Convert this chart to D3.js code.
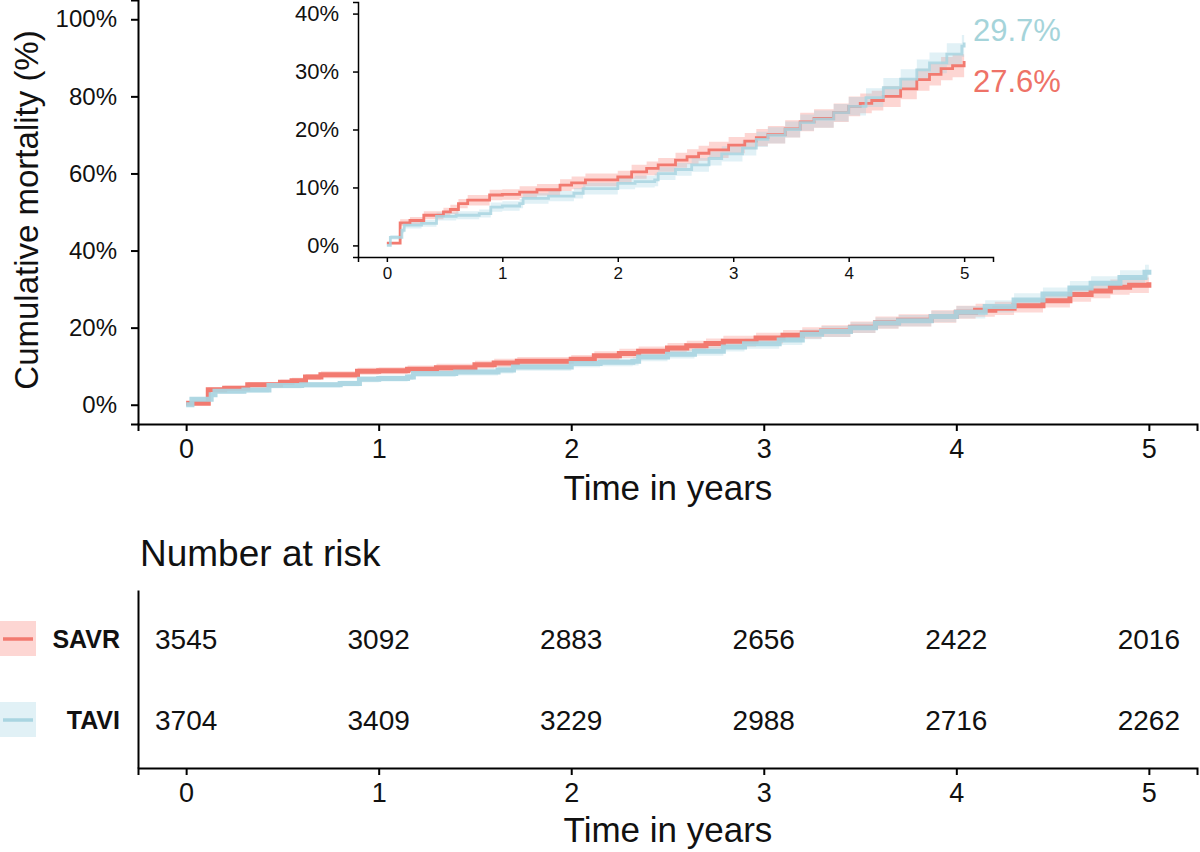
<!DOCTYPE html>
<html><head><meta charset="utf-8">
<script src="https://cdn.jsdelivr.net/npm/d3@7"></script>
<style>
body{margin:0;background:#fff;}
svg{display:block;font-family:"Liberation Sans",Arial,Helvetica,sans-serif;}
</style></head>
<body>
<svg id="chart" width="1200" height="852"></svg>
<script>
// ---------------- DATA ----------------
const groups = ["SAVR", "TAVI"];
const yearTicks = [0, 1, 2, 3, 4, 5];
const mainYTicks = [0, 20, 40, 60, 80, 100];
const insetYTicks = [0, 10, 20, 30, 40];

const savrTime  = [0,0.115,0.2,0.32,0.49,0.55,0.62,0.7,0.89,1.0,1.15,1.3,1.5,1.6,1.72,2.0,2.12,2.25,2.35,2.5,2.6,2.7,2.79,2.96,3.1,3.2,3.3,3.45,3.58,3.7,3.87,4.0,4.1,4.2,4.3,4.45,4.59,4.7,4.8,4.9,5.0];
const savrMort  = [0.4,3.9,4.3,5.2,5.8,6.2,7.2,7.8,8.7,8.8,9.2,9.6,10.4,10.8,11.3,11.8,12.7,13.3,13.9,14.7,15.3,15.9,16.5,17.3,18.0,18.6,19.1,20.1,21.3,21.9,22.9,24.0,24.5,25.0,25.7,27.0,28.6,29.5,30.5,31.0,31.8];
const savrLower = [0.2,3.3,3.7,4.5,5.1,5.4,6.4,6.9,7.8,7.9,8.2,8.6,9.4,9.7,10.2,10.7,11.5,12.1,12.7,13.4,14.0,14.6,15.1,15.9,16.6,17.1,17.6,18.6,19.7,20.3,21.3,22.3,22.8,23.3,23.9,25.2,26.7,27.6,28.5,29.0,29.7];
const savrUpper = [0.6,4.5,4.9,5.9,6.5,7.0,8.0,8.7,9.6,9.7,10.2,10.6,11.4,11.9,12.4,12.9,13.9,14.5,15.1,16.0,16.6,17.2,17.9,18.7,19.4,20.1,20.6,21.6,22.9,23.5,24.5,25.7,26.2,26.7,27.5,28.8,30.5,31.4,32.5,33.0,33.9];

const taviTime  = [0,0.03,0.13,0.15,0.3,0.43,0.6,0.8,0.9,1.0,1.15,1.18,1.4,1.62,1.7,2.0,2.15,2.32,2.35,2.5,2.64,2.79,2.9,3.08,3.2,3.3,3.45,3.58,3.7,3.87,4.0,4.15,4.3,4.45,4.59,4.7,4.85,4.98,5.0];
const taviMort  = [0,1.4,2.6,3.5,3.8,5.0,5.2,5.5,6.6,6.8,7.2,8.1,8.5,9.0,9.8,10.7,11.0,11.3,12.4,13.1,13.9,15.0,15.8,16.8,18.3,19.0,20.0,21.2,21.8,22.9,24.0,25.5,27.2,28.7,30.3,31.5,33.0,34.4,35.0];
const taviLower = [0,1.0,2.1,2.9,3.2,4.3,4.5,4.8,5.8,6.0,6.4,7.2,7.6,8.1,8.8,9.7,10.0,10.2,11.3,12.0,12.7,13.8,14.5,15.5,17.0,17.6,18.6,19.8,20.3,21.4,22.4,23.9,25.5,27.0,28.5,29.7,31.1,32.5,33.0];
const taviUpper = [0.1,1.8,3.1,4.1,4.4,5.7,5.9,6.2,7.4,7.6,8.0,9.0,9.4,9.9,10.8,11.7,12.0,12.4,13.5,14.2,15.1,16.2,17.1,18.1,19.6,20.4,21.4,22.6,23.3,24.4,25.6,27.1,28.9,30.4,32.1,33.3,34.9,36.3,37.0];

const endLabels = ["27.6%", "29.7%"];          // SAVR, TAVI
const riskSAVR = [3545, 3092, 2883, 2656, 2422, 2016];
const riskTAVI = [3704, 3409, 3229, 2988, 2716, 2262];

// ---------------- STYLE ----------------
const lineCol = {SAVR: "#F27A70", TAVI: "#A9D5E1"};
const bandCol = {SAVR: "#F8766D", TAVI: "#9CCFE0"};
const labelCol = {SAVR: "#EE7267", TAVI: "#A5D4DA"};
const FONT = '"Liberation Sans",Arial,Helvetica,sans-serif';

const series = [
  {name: "SAVR", pts: savrTime.map((t, i) => ({t, v: savrMort[i], lo: savrLower[i], hi: savrUpper[i]}))},
  {name: "TAVI", pts: taviTime.map((t, i) => ({t, v: taviMort[i], lo: taviLower[i], hi: taviUpper[i]}))}
];

const svg = d3.select("#chart");
const fmtInt = d3.format("d");

function drawCurves(g, x, y, lw, bandOp, lineOp) {
  const area = d3.area().curve(d3.curveStepAfter).x(d => x(d.t)).y0(d => y(d.lo)).y1(d => y(d.hi));
  const line = d3.line().curve(d3.curveStepAfter).x(d => x(d.t)).y(d => y(d.v));
  series.forEach(s => {
    g.append("path").datum(s.pts).attr("d", area)
      .attr("fill", bandCol[s.name]).attr("fill-opacity", bandOp).attr("stroke", "none");
  });
  series.forEach(s => {
    g.append("path").datum(s.pts).attr("d", line)
      .attr("fill", "none").attr("stroke", lineCol[s.name]).attr("stroke-width", lw)
      .attr("stroke-opacity", lineOp[s.name]);
  });
}

function styleAxis(ax, fs, sw) {
  ax.selectAll(".domain").attr("stroke", "#000").attr("stroke-width", sw);
  ax.selectAll(".tick line").attr("stroke", "#000").attr("stroke-width", sw);
  ax.selectAll(".tick text").attr("fill", "#111").attr("font-size", fs).attr("font-family", FONT);
}

// ---------------- MAIN PLOT ----------------
const xMain = d3.scaleLinear().domain([-0.25, 5.25]).range([138, 1197]);
const yMain = d3.scaleLinear().domain([-5, 105]).range([424, 0]);

const gMain = svg.append("g");
drawCurves(gMain, xMain, yMain, 5, 0.28, {SAVR: 1, TAVI: 0.92});

const axL = svg.append("g").attr("transform", `translate(${xMain.range()[0]},0)`)
  .call(d3.axisLeft(yMain).tickValues(mainYTicks).tickFormat(d => d + "%").tickSizeOuter(0).tickSize(7).tickPadding(14));
styleAxis(axL, 24, 2);
const axB = svg.append("g").attr("transform", `translate(0,${yMain.range()[0]})`)
  .call(d3.axisBottom(xMain).tickValues(yearTicks).tickFormat(fmtInt).tickSizeOuter(0).tickSize(7).tickPadding(8));
styleAxis(axB, 27, 2);

svg.append("text").attr("transform", "translate(38,210) rotate(-90)")
  .attr("text-anchor", "middle").attr("font-size", 33).attr("font-family", FONT).attr("fill", "#111")
  .text("Cumulative mortality (%)");
svg.append("text").attr("x", 668).attr("y", 500)
  .attr("text-anchor", "middle").attr("font-size", 35).attr("font-family", FONT).attr("fill", "#111")
  .text("Time in years");

// ---------------- INSET ----------------
const xIn = d3.scaleLinear().domain([-0.25, 5.25]).range([358, 993]);
const yIn = d3.scaleLinear().domain([-2, 42]).range([257, 2]);
const gIn = svg.append("g");
drawCurves(gIn, xIn, yIn, 2.8, 0.3, {SAVR: 1, TAVI: 0.85});

const axLi = svg.append("g").attr("transform", `translate(${xIn.range()[0]},0)`)
  .call(d3.axisLeft(yIn).tickValues(insetYTicks).tickFormat(d => d + "%").tickSizeOuter(0).tickSize(5).tickPadding(14));
styleAxis(axLi, 22, 1.5);
const axBi = svg.append("g").attr("transform", `translate(0,${yIn.range()[0]})`)
  .call(d3.axisBottom(xIn).tickValues(yearTicks).tickFormat(fmtInt).tickSizeOuter(0).tickSize(5).tickPadding(5));
styleAxis(axBi, 17, 1.5);

svg.append("text").attr("x", 973).attr("y", 41).attr("font-size", 31).attr("font-family", FONT)
  .attr("fill", labelCol.TAVI).text(endLabels[1]);
svg.append("text").attr("x", 973).attr("y", 92).attr("font-size", 31).attr("font-family", FONT)
  .attr("fill", labelCol.SAVR).text(endLabels[0]);

// ---------------- RISK TABLE ----------------
svg.append("text").attr("x", 140).attr("y", 566).attr("font-size", 37).attr("font-family", FONT)
  .attr("fill", "#111").text("Number at risk");

const yRisk = d3.scalePoint().domain(groups).range([639, 720]);
const axLr = svg.append("g").attr("transform", `translate(${xMain.range()[0]},0)`)
  .call(d3.axisLeft(d3.scaleLinear().domain([0, 1]).range([768, 590])).tickValues([]).tickSizeOuter(0));
styleAxis(axLr, 24, 2);
const axBr = svg.append("g").attr("transform", "translate(0,768)")
  .call(d3.axisBottom(xMain).tickValues(yearTicks).tickFormat(fmtInt).tickSizeOuter(0).tickSize(7).tickPadding(8));
styleAxis(axBr, 27, 2);

const riskRows = [{name: "SAVR", vals: riskSAVR}, {name: "TAVI", vals: riskTAVI}];
riskRows.forEach(r => {
  svg.append("g").selectAll("text").data(r.vals).join("text")
    .attr("x", (d, i) => xMain(yearTicks[i])).attr("y", yRisk(r.name) + 10)
    .attr("text-anchor", "middle").attr("font-size", 28).attr("font-family", FONT).attr("fill", "#111")
    .text(d => d);
  // legend key
  svg.append("rect").attr("x", 0).attr("y", yRisk(r.name) - 18).attr("width", 36).attr("height", 35)
    .attr("fill", bandCol[r.name]).attr("fill-opacity", 0.3);
  svg.append("line").attr("x1", 3).attr("x2", 33).attr("y1", yRisk(r.name)).attr("y2", yRisk(r.name))
    .attr("stroke", lineCol[r.name]).attr("stroke-width", 3.5);
  svg.append("text").attr("x", 120).attr("y", yRisk(r.name) + 9).attr("text-anchor", "end")
    .attr("font-size", 25).attr("font-weight", "bold").attr("font-family", FONT).attr("fill", "#111")
    .text(r.name);
});

svg.append("text").attr("x", 668).attr("y", 842)
  .attr("text-anchor", "middle").attr("font-size", 35).attr("font-family", FONT).attr("fill", "#111")
  .text("Time in years");
</script>
</body></html>
